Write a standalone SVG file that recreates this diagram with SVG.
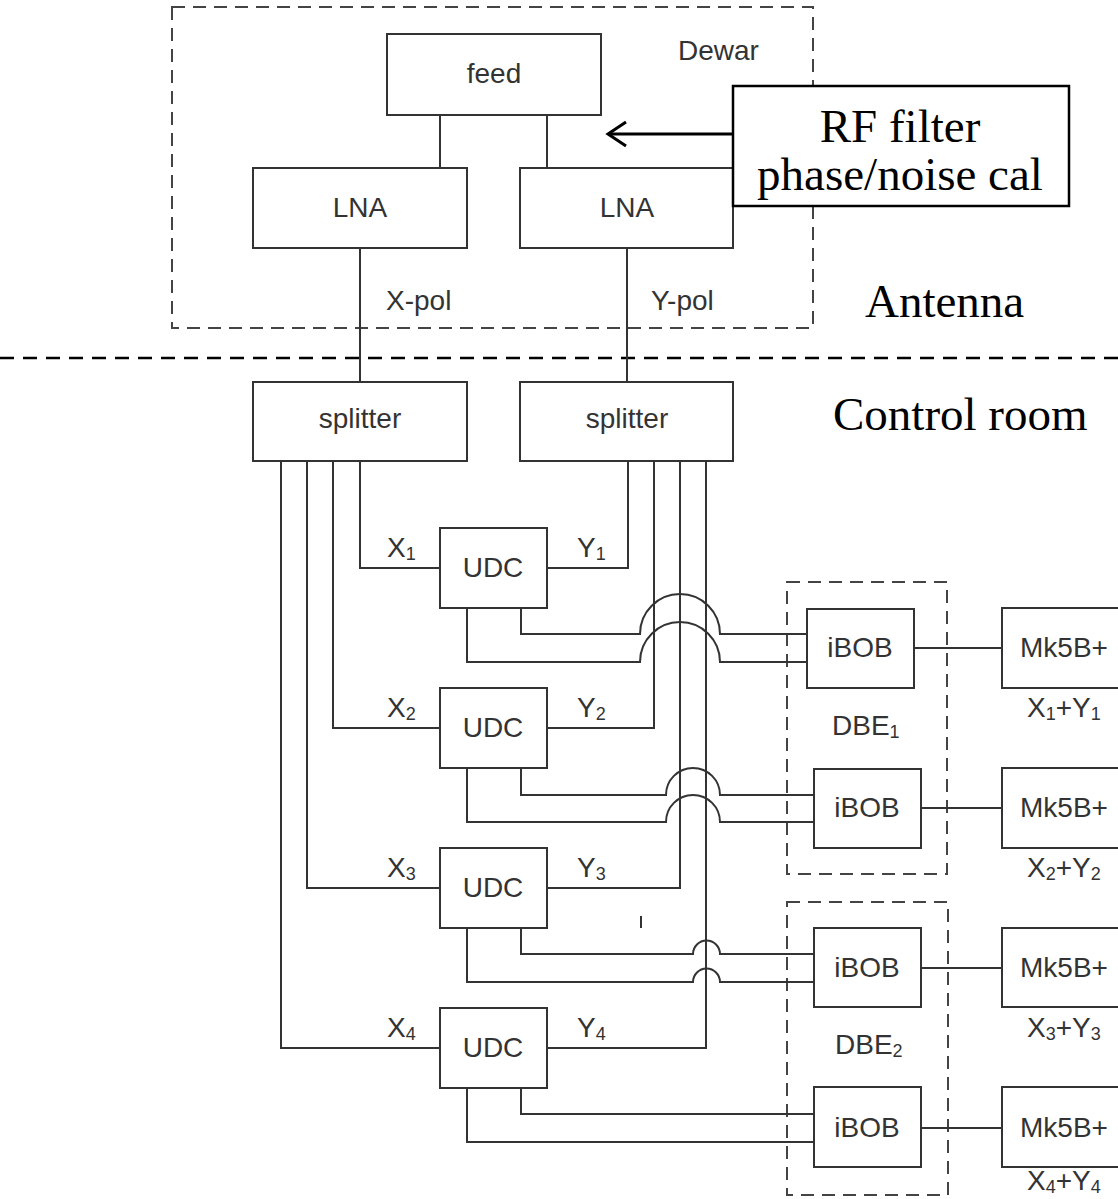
<svg xmlns="http://www.w3.org/2000/svg" width="1118" height="1199" viewBox="0 0 1118 1199">
<style>
.box{fill:#fff;stroke:#333;stroke-width:2}
.ln{fill:none;stroke:#333;stroke-width:2}
.dash{fill:none;stroke:#444;stroke-width:2;stroke-dasharray:13 8}
.t{font-family:"Liberation Sans",Arial,sans-serif;font-size:28px;fill:#333}
.tm{font-family:"Liberation Serif","Times New Roman",serif;font-size:47px;fill:#000}
.s{font-size:18px}
</style>
<rect width="1118" height="1199" fill="#fff"/>
<g id="dewar"><rect x="172" y="7" width="641" height="321" class="dash" stroke="#555"/><text class="t" x="678" y="60">Dewar</text></g>
<line id="divider" x1="0" y1="358" x2="1118" y2="358" stroke="#000" stroke-width="2.5" stroke-dasharray="14 9"/>
<g id="dbe1"><rect x="787" y="582" width="160" height="292" class="dash"/><text class="t" x="832" y="735">DBE<tspan class="s" dy="3">1</tspan></text></g>
<g id="dbe2"><rect x="787" y="902" width="161" height="293" class="dash"/><text class="t" x="835" y="1054">DBE<tspan class="s" dy="3">2</tspan></text></g>
<g id="connectors">
<path class="ln" d="M440,115V168M547,115V168M360,248V382M627,248V382"/>
<path class="ln" d="M360,461V568H440M333,461V728H440M307,461V888H440M281,461V1048H440"/>
<path class="ln" d="M628,461V568H547M654,461V728H547M680,461V888H547M706,461V1048H547"/>
<path class="ln" d="M521,608V634H640A40,40 0 0 1 720,634H807M467,608V662H640A40,40 0 0 1 720,662H807"/>
<path class="ln" d="M521,768V795H666A27,27 0 0 1 720,795H814M467,768V822H666A27,27 0 0 1 720,822H814"/>
<path class="ln" d="M521,928V954H693A13.5,13.5 0 0 1 720,954H814M467,928V982H693A13.5,13.5 0 0 1 720,982H814"/>
<path class="ln" d="M521,1088V1114H814M467,1088V1142H814"/>
<path class="ln" d="M914,648H1002M921,808H1002M921,968H1002M921,1128H1002"/>
<line class="ln" x1="641" y1="916" x2="641" y2="928"/>
<path d="M733,134H608" fill="none" stroke="#000" stroke-width="3"/>
<polyline points="626,122 608,134 626,146" fill="none" stroke="#000" stroke-width="3"/>
</g>
<g id="feed"><rect x="387" y="34" width="214" height="81" class="box"/><text class="t" x="494" y="83" text-anchor="middle">feed</text></g>
<g id="lna-x"><rect x="253" y="168" width="214" height="80" class="box"/><text class="t" x="360" y="217" text-anchor="middle">LNA</text></g>
<g id="lna-y"><rect x="520" y="168" width="213" height="80" class="box"/><text class="t" x="627" y="217" text-anchor="middle">LNA</text></g>
<text class="t" x="386" y="310">X-pol</text>
<text class="t" x="651" y="310">Y-pol</text>
<g id="rf"><rect x="733" y="86" width="336" height="120" fill="#fff" stroke="#000" stroke-width="2.5"/><text class="tm" x="900" y="142" text-anchor="middle">RF filter</text><text class="tm" x="900" y="190" text-anchor="middle">phase/noise cal</text></g>
<text class="tm" x="865" y="317">Antenna</text>
<text class="tm" x="833" y="430">Control room</text>
<g id="splitter-x"><rect x="253" y="382" width="214" height="79" class="box"/><text class="t" x="360" y="428" text-anchor="middle">splitter</text></g>
<g id="splitter-y"><rect x="520" y="382" width="213" height="79" class="box"/><text class="t" x="627" y="428" text-anchor="middle">splitter</text></g>
<g id="udc1"><rect x="440" y="528" width="107" height="80" class="box"/><text class="t" x="493" y="577" text-anchor="middle">UDC</text></g>
<g id="udc2"><rect x="440" y="688" width="107" height="80" class="box"/><text class="t" x="493" y="737" text-anchor="middle">UDC</text></g>
<g id="udc3"><rect x="440" y="848" width="107" height="80" class="box"/><text class="t" x="493" y="897" text-anchor="middle">UDC</text></g>
<g id="udc4"><rect x="440" y="1008" width="107" height="80" class="box"/><text class="t" x="493" y="1057" text-anchor="middle">UDC</text></g>
<text class="t" x="387" y="557">X<tspan class="s" dy="3">1</tspan></text>
<text class="t" x="577" y="557">Y<tspan class="s" dy="3">1</tspan></text>
<text class="t" x="387" y="717">X<tspan class="s" dy="3">2</tspan></text>
<text class="t" x="577" y="717">Y<tspan class="s" dy="3">2</tspan></text>
<text class="t" x="387" y="877">X<tspan class="s" dy="3">3</tspan></text>
<text class="t" x="577" y="877">Y<tspan class="s" dy="3">3</tspan></text>
<text class="t" x="387" y="1037">X<tspan class="s" dy="3">4</tspan></text>
<text class="t" x="577" y="1037">Y<tspan class="s" dy="3">4</tspan></text>
<g id="ibob1"><rect x="807" y="609" width="107" height="79" class="box"/><text class="t" x="860" y="657" text-anchor="middle">iBOB</text></g>
<g id="ibob2"><rect x="814" y="769" width="107" height="79" class="box"/><text class="t" x="867" y="817" text-anchor="middle">iBOB</text></g>
<g id="ibob3"><rect x="814" y="928" width="107" height="79" class="box"/><text class="t" x="867" y="977" text-anchor="middle">iBOB</text></g>
<g id="ibob4"><rect x="814" y="1087" width="107" height="80" class="box"/><text class="t" x="867" y="1137" text-anchor="middle">iBOB</text></g>
<g id="mk5b1"><rect x="1002" y="608" width="130" height="80" class="box"/><text class="t" x="1020" y="657">Mk5B+</text><text class="t" x="1027" y="717">X<tspan class="s" dy="3">1</tspan><tspan dy="-3">+Y</tspan><tspan class="s" dy="3">1</tspan></text></g>
<g id="mk5b2"><rect x="1002" y="768" width="130" height="80" class="box"/><text class="t" x="1020" y="817">Mk5B+</text><text class="t" x="1027" y="877">X<tspan class="s" dy="3">2</tspan><tspan dy="-3">+Y</tspan><tspan class="s" dy="3">2</tspan></text></g>
<g id="mk5b3"><rect x="1002" y="928" width="130" height="79" class="box"/><text class="t" x="1020" y="977">Mk5B+</text><text class="t" x="1027" y="1037">X<tspan class="s" dy="3">3</tspan><tspan dy="-3">+Y</tspan><tspan class="s" dy="3">3</tspan></text></g>
<g id="mk5b4"><rect x="1002" y="1087" width="130" height="80" class="box"/><text class="t" x="1020" y="1137">Mk5B+</text><text class="t" x="1027" y="1190">X<tspan class="s" dy="3">4</tspan><tspan dy="-3">+Y</tspan><tspan class="s" dy="3">4</tspan></text></g>
</svg>
